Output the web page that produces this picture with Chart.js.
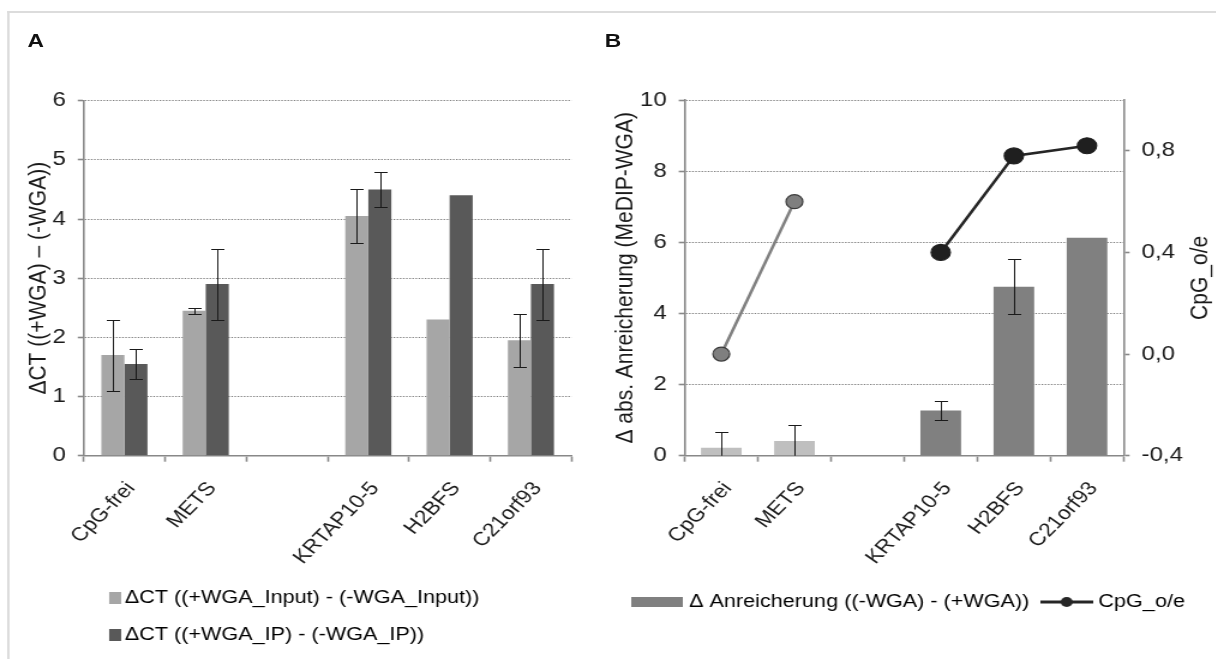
<!DOCTYPE html>
<html>
<head>
<meta charset="utf-8">
<script src="https://cdn.jsdelivr.net/npm/chart.js@4.4.1/dist/chart.umd.min.js"></script>
<style>
  html, body { margin: 0; padding: 0; background: #fff; overflow: hidden; }
  /* figure is laid out at 1013px and widened to the full 1216px */
  #fig { position: absolute; left: 0; top: 0; width: 1013px; height: 659px;
         transform: scaleX(1.2); transform-origin: 0 0;
         font-family: "Liberation Sans", Arial, Helvetica, sans-serif; }
  #frame { position: absolute; left: 6px; top: 11px; width: 1100px; height: 700px;
           border-top: 2px solid #dcdcdc; border-left: 2px solid #dcdcdc; }
  .tag { position: absolute; top: 31px; font-size: 19px; line-height: 19px; font-weight: bold; color: #111; }
  .box { position: absolute; top: 55px; height: 604px; }
</style>
</head>
<body>
<div id="fig">
  <div id="frame"></div>
  <div class="tag" style="left:23px">A</div>
  <div class="tag" style="left:504px">B</div>
  <div class="box" style="left:8px;width:480px"><canvas id="chartA"></canvas></div>
  <div class="box" style="left:500px;width:513px"><canvas id="chartB"></canvas></div>
</div>
<script>
// genes on the x axis; the blank slot separates the control from the targets
const categories = ['CpG-frei', 'METS', '', 'KRTAP10-5', 'H2BFS', 'C21orf93'];

// panel A: delta CT with/without WGA
const inputDelta = [1.7, 2.45, null, 4.05, 2.3, 1.95];
const inputErr   = [0.6, 0.05, null, 0.45, null, 0.45];
const ipDelta    = [1.55, 2.9, null, 4.5, 4.4, 2.9];
const ipErr      = [0.25, 0.6, null, 0.3, null, 0.6];
const ticksA     = [0, 1, 2, 3, 4, 5, 6];

// panel B: enrichment difference and CpG observed/expected ratio
const enrichDelta = [0.22, 0.41, null, 1.27, 4.75, 6.13];
const enrichErr   = [0.44, 0.45, null, 0.28, 0.78, null];
const cpgOE       = [0.0, 0.6, null, 0.4, 0.78, 0.82];
const ticksBLeft  = [0, 2, 4, 6, 8, 10];
const ticksBRight = [-0.4, 0, 0.4, 0.8];

const INK = '#1a1a1a', AXIS = '#888888', GRID = '#7c7c7c';

Chart.defaults.font.family = '"Liberation Sans", Arial, Helvetica, sans-serif';
Chart.defaults.color = INK;

function swatch(w, h, paint) {
  const c = document.createElement('canvas');
  c.width = w; c.height = h;
  paint(c.getContext('2d'));
  return c;
}

// symmetric error bars with caps, clipped to the plot area
const errorBars = {
  id: 'errorBars',
  afterDatasetsDraw(chart) {
    const { ctx, chartArea: a } = chart;
    ctx.save();
    ctx.beginPath();
    ctx.rect(a.left, a.top, a.right - a.left, a.bottom - a.top);
    ctx.clip();
    ctx.strokeStyle = INK;
    ctx.lineWidth = 1;
    chart.data.datasets.forEach((ds, di) => {
      if (!ds.errors) return;
      const meta = chart.getDatasetMeta(di);
      const ys = chart.scales[meta.yAxisID];
      meta.data.forEach((bar, i) => {
        const v = ds.data[i], e = ds.errors[i];
        if (v == null || e == null) return;
        const x = Math.round(bar.x) + 0.5;
        const hi = Math.round(ys.getPixelForValue(v + e)) + 0.5;
        const lo = Math.round(ys.getPixelForValue(v - e)) + 0.5;
        ctx.beginPath();
        ctx.moveTo(x, hi); ctx.lineTo(x, lo);
        ctx.moveTo(x - 5.5, hi); ctx.lineTo(x + 5.5, hi);
        ctx.moveTo(x - 5.5, lo); ctx.lineTo(x + 5.5, lo);
        ctx.stroke();
      });
    });
    ctx.restore();
  }
};

// right axis title, reading bottom to top like the left one
const rightTitle = {
  id: 'rightTitle',
  afterDraw(chart) {
    const s = chart.scales.y1, ctx = chart.ctx;
    ctx.save();
    ctx.translate(s.right - 13, (s.top + s.bottom) / 2);
    ctx.rotate(-Math.PI / 2);
    ctx.font = '21px "Liberation Sans", Arial, sans-serif';
    ctx.fillStyle = INK;
    ctx.textAlign = 'center';
    ctx.textBaseline = 'middle';
    ctx.fillText('CpG_o/e', 0, 0);
    ctx.restore();
  }
};

const xAxis = (height) => ({
  grid: { offset: true, drawOnChartArea: false, tickLength: 6, tickColor: AXIS, tickWidth: 1.6 },
  border: { color: AXIS, width: 1.6 },
  ticks: { autoSkip: false, minRotation: 50, maxRotation: 50, padding: 16, labelOffset: 5.5, color: INK, font: { size: 19 } },
  afterFit: s => { s.height = height; }
});

const yAxis = (vals, width, extra) => Object.assign({
  min: vals[0], max: vals[vals.length - 1],
  afterBuildTicks: s => { s.ticks = vals.map(v => ({ value: v })); },
  grid: { color: GRID, lineWidth: 1, tickLength: 5, tickColor: AXIS, tickWidth: 1.6 },
  border: { color: AXIS, width: 1.6, dash: [1.3, 1.3] },
  ticks: { padding: 10, color: INK, font: { size: 20 } },
  afterFit: s => { s.width = width; }
}, extra);

new Chart(document.getElementById('chartA'), {
  type: 'bar',
  data: {
    labels: categories,
    datasets: [
      { label: 'ΔCT ((+WGA_Input) - (-WGA_Input))', data: inputDelta, errors: inputErr, backgroundColor: '#a6a6a6' },
      { label: 'ΔCT ((+WGA_IP) - (-WGA_IP))', data: ipDelta, errors: ipErr, backgroundColor: '#595959' }
    ]
  },
  options: {
    responsive: true, maintainAspectRatio: false, animation: false,
    layout: { padding: { left: 7.7, top: 45.7, right: 11.7, bottom: 5 } },
    datasets: { bar: { categoryPercentage: 0.567, barPercentage: 1 } },
    plugins: {
      tooltip: { enabled: false },
      legend: {
        position: 'bottom', align: 'start', fullSize: false,
        labels: {
          usePointStyle: true, pointStyleWidth: 6.2, padding: 19,
          color: INK, font: { size: 18 },
          generateLabels: chart => chart.data.datasets.map((ds, i) => ({
            text: ds.label, datasetIndex: i, hidden: false, lineWidth: 0,
            pointStyle: swatch(20, 12, g => { g.fillStyle = ds.backgroundColor; g.fillRect(9, 0, 10, 12); })
          }))
        }
      }
    },
    scales: {
      x: xAxis(114.3),
      y: yAxis(ticksA, 54.1, {
        title: { display: true, text: 'ΔCT ((+WGA) – (-WGA))', color: INK, font: { size: 21 }, padding: { top: 4, bottom: 4 } }
      })
    }
  },
  plugins: [errorBars]
});

const legendBar = swatch(43, 10, g => { g.fillStyle = '#808080'; g.fillRect(0, 0, 43, 10); });
const legendLine = swatch(44, 18, g => {
  g.strokeStyle = '#262626'; g.lineWidth = 3;
  g.beginPath(); g.moveTo(0, 9); g.lineTo(44, 9); g.stroke();
  g.fillStyle = '#262626';
  g.beginPath(); g.arc(22, 9, 5, 0, Math.PI * 2); g.fill();
});

new Chart(document.getElementById('chartB'), {
  type: 'bar',
  data: {
    labels: categories,
    datasets: [
      { type: 'bar', label: 'Δ Anreicherung ((-WGA) - (+WGA))', data: enrichDelta, errors: enrichErr, yAxisID: 'y',
        backgroundColor: ['#bfbfbf', '#bfbfbf', '#808080', '#808080', '#808080', '#808080'] },
      { type: 'line', label: 'CpG_o/e', data: cpgOE, yAxisID: 'y1', spanGaps: false,
        borderColor: '#262626', borderWidth: 2.6,
        segment: { borderColor: c => c.p0DataIndex < 2 ? '#808080' : '#262626' },
        pointRadius: [7, 7, 0, 8, 8, 8], pointBorderWidth: 1.2,
        pointBackgroundColor: ['#7f7f7f', '#7f7f7f', '#7f7f7f', '#1f1f1f', '#1f1f1f', '#1f1f1f'],
        pointBorderColor: ['#3a3a3a', '#3a3a3a', '#3a3a3a', '#1f1f1f', '#1f1f1f', '#1f1f1f'] }
    ]
  },
  options: {
    responsive: true, maintainAspectRatio: false, animation: false,
    layout: { padding: { left: 4.7, top: 45, right: 0, bottom: 38 } },
    datasets: { bar: { categoryPercentage: 0.556, barPercentage: 1 } },
    plugins: {
      tooltip: { enabled: false },
      legend: {
        position: 'bottom', align: 'center',
        labels: {
          usePointStyle: true, pointStyleWidth: 35, padding: 13.5,
          color: INK, font: { size: 18 },
          generateLabels: chart => chart.data.datasets.map((ds, i) => ({
            text: ds.label, datasetIndex: i, hidden: false, lineWidth: 0,
            pointStyle: i === 0 ? legendBar : legendLine
          }))
        }
      }
    },
    scales: {
      x: xAxis(123.8),
      y: yAxis(ticksBLeft, 65.9, {
        title: { display: true, text: 'Δ abs. Anreicherung (MeDIP-WGA)', color: INK, font: { size: 21 }, padding: { top: 4, bottom: 4 } }
      }),
      y1: {
        position: 'right', min: ticksBRight[0], max: 1.0,
        afterBuildTicks: s => { s.ticks = ticksBRight.map(v => ({ value: v })); },
        grid: { drawOnChartArea: false, tickLength: 5, tickColor: AXIS, tickWidth: 1.6 },
        border: { color: AXIS, width: 1.6 },
        ticks: { padding: 10, color: INK, font: { size: 20 }, callback: v => v.toFixed(1).replace('.', ',') },
        afterFit: s => { s.width = 76.7; }
      }
    }
  },
  plugins: [errorBars, rightTitle]
});
</script>
</body>
</html>
